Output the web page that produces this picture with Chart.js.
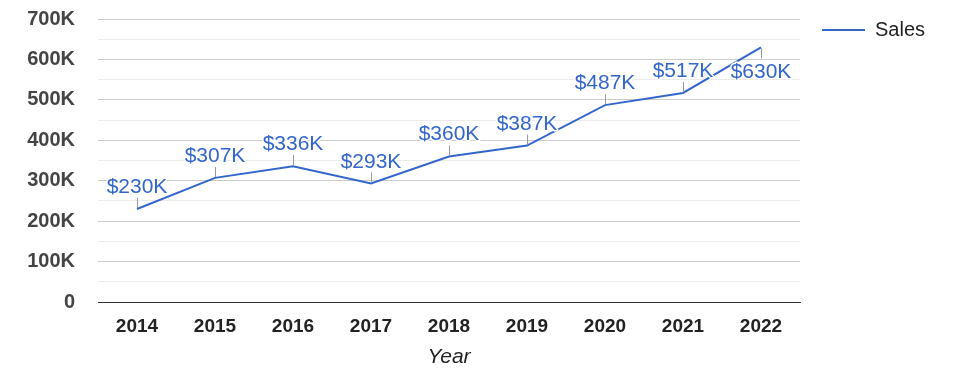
<!DOCTYPE html>
<html>
<head>
<meta charset="utf-8">
<script src="https://cdn.jsdelivr.net/npm/chart.js@4/dist/chart.umd.min.js"></script>
<style>
  html, body { margin: 0; padding: 0; background: #fff; }
  #wrap { width: 975px; height: 378px; }
</style>
</head>
<body>
<div id="wrap"><canvas id="myChart" width="975" height="378"></canvas></div>
<script>
// data
var years = ['2014', '2015', '2016', '2017', '2018', '2019', '2020', '2021', '2022'];
var sales = [230000, 307000, 336000, 293000, 360000, 387000, 487000, 517000, 630000];
var salesLabels = ['$230K', '$307K', '$336K', '$293K', '$360K', '$387K', '$487K', '$517K', '$630K'];

var blue = '#3366cc';
var fontFam = 'Arial, "Liberation Sans", sans-serif';

// annotations above each point (last one goes below) + legend on the right
var labelPlugin = {
  id: 'labelPlugin',
  afterDatasetsDraw: function(chart) {
    var ctx = chart.ctx;
    var meta = chart.getDatasetMeta(0);
    ctx.save();
    ctx.font = '21px ' + fontFam;
    ctx.textAlign = 'center';
    ctx.textBaseline = 'alphabetic';
    for (var i = 0; i < meta.data.length; i++) {
      var p = meta.data[i];
      var below = (i == meta.data.length - 1);
      ctx.strokeStyle = '#999';
      ctx.lineWidth = 1;
      ctx.beginPath();
      if (below) {
        ctx.moveTo(Math.round(p.x) + 0.5, p.y + 1);
        ctx.lineTo(Math.round(p.x) + 0.5, p.y + 11);
      } else {
        ctx.moveTo(Math.round(p.x) + 0.5, p.y - 1);
        ctx.lineTo(Math.round(p.x) + 0.5, p.y - 11);
      }
      ctx.stroke();
      var ty = below ? p.y + 31 : p.y - 16;
      ctx.strokeStyle = '#fff';
      ctx.lineWidth = 3;
      ctx.lineJoin = 'round';
      ctx.strokeText(salesLabels[i], p.x, ty);
      ctx.fillStyle = blue;
      ctx.fillText(salesLabels[i], p.x, ty);
    }
    // legend
    ctx.strokeStyle = blue;
    ctx.lineWidth = 2;
    ctx.beginPath();
    ctx.moveTo(822, 30);
    ctx.lineTo(865, 30);
    ctx.stroke();
    ctx.font = '20px ' + fontFam;
    ctx.fillStyle = '#222';
    ctx.textAlign = 'left';
    ctx.textBaseline = 'middle';
    ctx.fillText(chart.data.datasets[0].label, 875, 30);
    ctx.restore();
  }
};

var ctx = document.getElementById('myChart').getContext('2d');
var chart = new Chart(ctx, {
  type: 'line',
  data: {
    labels: years,
    datasets: [{
      label: 'Sales',
      data: sales,
      borderColor: blue,
      backgroundColor: blue,
      borderWidth: 2,
      pointRadius: 0,
      tension: 0
    }]
  },
  options: {
    responsive: false,
    animation: false,
    layout: { padding: { top: 19, right: 175, bottom: 0, left: 0 } },
    plugins: {
      legend: { display: false },
      tooltip: { enabled: false }
    },
    scales: {
      x: {
        offset: true,
        grid: { display: false, drawTicks: false },
        border: { display: true, color: '#333', width: 1 },
        ticks: {
          padding: 13,
          color: '#222',
          font: { family: fontFam, size: 19, weight: 'bold' }
        },
        title: {
          display: true,
          text: 'Year',
          color: '#222',
          padding: { top: 0, bottom: 8 },
          font: { family: fontFam, size: 21, style: 'italic' }
        },
        afterFit: function(scale) { scale.height = 76; }
      },
      y: {
        min: 0,
        max: 700000,
        border: { display: false },
        grid: {
          drawTicks: false,
          color: function(c) {
            var v = c.tick.value;
            if (v === 0) return '#333';
            return (v % 100000 === 0) ? '#cccccc' : '#ebebeb';
          }
        },
        ticks: {
          stepSize: 50000,
          autoSkip: false,
          padding: 23,
          color: '#444',
          font: { family: fontFam, size: 20, weight: 'bold' },
          callback: function(v) {
            if (v % 100000 !== 0) return '';
            return v === 0 ? '0' : (v / 1000) + 'K';
          }
        },
        afterFit: function(scale) {
          scale.width = 98;
          scale.paddingTop = 0;
          scale.paddingBottom = 0;
        }
      }
    }
  },
  plugins: [labelPlugin]
});
</script>
</body>
</html>
